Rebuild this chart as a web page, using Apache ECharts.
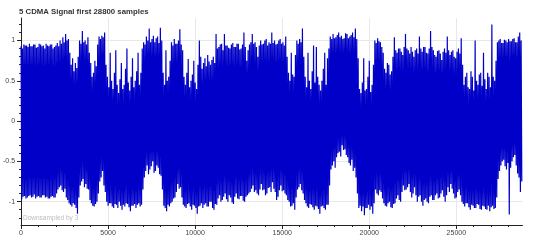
<!DOCTYPE html>
<html><head><meta charset="utf-8">
<script src="https://cdn.jsdelivr.net/npm/echarts@6/dist/echarts.min.js"></script>
<style>html,body{margin:0;padding:0;background:#fff}#c{width:540px;height:240px}</style>
</head><body><div id="c"></div>
<script>
const chartTitle = '5 CDMA Signal first 28800 samples';
const noteText = 'Downsampled by 3';
const sampleStep = 40; // samples between the values below
const signal = [
 0.93,-0.97, 0.90,-0.94, 0.95,-0.93, 0.94,-0.96, 0.94,-0.95, 0.92,-0.93, 0.96,-0.92, 0.93,-0.95, 0.93,-0.94, 0.95,-0.91, 0.95,-0.96, 0.91,-0.94, 0.92,-0.93, 0.96,-0.95, 0.95,-0.95, 0.93,-0.92, 0.94,-0.92, 0.90,-0.95, 0.96,-0.94, 0.94,-0.96,
 0.93,-0.96, 0.95,-0.94, 0.95,-0.93, 0.90,-0.95, 0.92,-0.95, 0.94,-0.90, 0.97,-0.85, 0.93,-0.82, 1.00,-0.80, 0.96,-0.86, 1.04,-0.88, 0.98,-0.84, 1.08,-0.95, 1.00,-0.98, 1.02,-1.02, 0.85,-1.04, 0.70,-1.06, 0.78,-1.02, 0.62,-1.04, 0.72,-1.08,
 0.66,-1.15, 0.80,-0.95, 1.00,-0.80, 0.96,-0.75, 1.12,-0.72, 0.98,-0.82, 1.00,-0.78, 0.95,-0.84, 1.04,-0.85, 0.85,-0.98, 0.72,-1.02, 0.55,-1.05, 0.60,-1.06, 0.75,-1.03, 0.68,-1.00, 0.95,-0.90, 1.05,-0.75, 1.02,-0.70, 1.06,-0.62, 1.04,-0.80,
 1.10,-0.88, 0.70,-1.00, 0.55,-1.05, 0.42,-1.02, 0.85,-1.02, 0.50,-1.06, 0.40,-1.08, 0.60,-1.03, 0.88,-1.04, 0.45,-1.08, 0.35,-1.00, 0.52,-1.05, 0.72,-1.10, 0.40,-1.04, 0.45,-1.06, 0.65,-1.02, 0.90,-1.03, 0.48,-1.07, 0.38,-1.12, 0.55,-1.05,
 0.78,-1.05, 0.42,-1.03, 0.50,-1.08, 0.62,-1.04, 0.85,-1.02, 0.45,-1.06, 0.60,-1.04, 0.90,-0.85, 0.98,-0.70, 0.95,-0.62, 1.05,-0.55, 1.00,-0.66, 1.15,-0.60, 0.98,-0.56, 1.02,-0.50, 1.06,-0.64, 0.98,-0.62, 1.03,-0.55, 1.05,-0.58, 0.97,-0.66,
 1.16,-0.68, 1.00,-0.85, 0.60,-1.05, 0.45,-1.08, 0.88,-1.12, 0.50,-1.04, 0.55,-1.06, 0.75,-1.02, 0.98,-1.00, 0.94,-0.96, 1.02,-0.95, 0.96,-0.88, 0.96,-0.78, 1.00,-0.84, 1.14,-0.82, 0.95,-0.95, 0.88,-1.04, 0.55,-1.06, 0.45,-1.08, 0.60,-1.03,
 0.77,-1.02, 0.42,-1.06, 0.50,-1.10, 0.58,-1.04, 0.75,-1.05, 0.48,-1.08, 0.40,-1.15, 0.70,-1.06, 1.00,-1.05, 0.80,-1.02, 0.65,-1.08, 0.72,-1.04, 0.78,-1.02, 0.68,-1.06, 0.82,-1.06, 0.74,-1.00, 0.70,-1.00, 0.76,-1.08, 0.80,-1.10, 0.72,-1.03,
 1.08,-1.04, 0.90,-0.96, 0.92,-0.92, 0.95,-1.00, 0.96,-0.98, 0.88,-0.94, 1.08,-0.90, 0.94,-0.97, 0.94,-1.00, 0.91,-0.92, 0.90,-0.95, 0.95,-1.01, 0.97,-1.03, 0.92,-0.94, 0.92,-0.90, 0.96,-0.96, 0.96,-0.97, 0.89,-0.93, 0.90,-0.93, 0.95,-0.99,
 1.10,-1.00, 0.92,-0.94, 0.75,-0.92, 0.88,-0.90, 0.95,-0.88, 0.98,-0.84, 1.08,-0.80, 0.96,-0.88, 0.98,-0.86, 0.92,-0.90, 0.80,-0.92, 0.94,-0.85, 1.00,-0.78, 0.95,-0.86, 0.96,-0.85, 1.00,-0.92, 1.02,-0.90, 0.94,-0.83, 0.98,-0.82, 0.96,-0.88,
 1.10,-0.76, 0.97,-0.84, 1.00,-0.88, 0.95,-0.98, 0.96,-0.94, 1.00,-0.86, 1.02,-0.80, 0.96,-0.87, 0.98,-0.86, 0.94,-0.90, 1.05,-0.92, 0.80,-0.98, 0.60,-1.00, 0.50,-1.06, 0.85,-1.05, 0.58,-1.02, 0.55,-1.10, 0.82,-0.95, 1.00,-0.85, 0.96,-0.82,
 1.02,-0.78, 0.98,-0.86, 1.15,-0.90, 0.80,-0.98, 0.55,-1.02, 0.42,-1.06, 0.85,-1.08, 0.50,-1.03, 0.40,-1.04, 0.62,-1.07, 0.94,-1.10, 0.48,-1.05, 0.92,-1.06, 0.55,-1.09, 0.45,-1.15, 0.38,-1.06, 0.50,-1.05, 0.65,-1.08, 0.85,-1.10, 0.45,-1.04,
 0.78,-1.04, 0.90,-0.80, 1.05,-0.60, 1.02,-0.55, 1.08,-0.50, 1.03,-0.58, 1.04,-0.45, 1.07,-0.40, 1.10,-0.38, 1.04,-0.44, 1.06,-0.30, 1.02,-0.36, 1.03,-0.35, 1.09,-0.42, 1.08,-0.45, 1.03,-0.52, 1.05,-0.55, 1.07,-0.48, 1.10,-0.62, 1.04,-0.58,
 1.15,-0.70, 1.02,-0.90, 0.78,-1.08, 0.40,-1.05, 0.35,-1.12, 0.48,-1.06, 0.78,-1.17, 0.38,-1.08, 0.40,-1.08, 0.55,-1.04, 0.75,-1.10, 0.36,-1.06, 0.45,-1.15, 0.70,-1.02, 1.00,-0.85, 0.97,-0.90, 1.03,-0.92, 0.99,-0.86, 0.98,-0.88, 0.92,-0.96,
 0.85,-1.02, 0.65,-1.05, 0.60,-1.06, 0.72,-1.02, 0.70,-1.00, 0.58,-1.07, 0.62,-1.08, 0.80,-1.03, 1.04,-1.02, 0.88,-0.96, 0.85,-0.92, 0.90,-0.98, 0.90,-1.00, 0.86,-0.88, 0.82,-0.80, 0.92,-0.86, 1.08,-0.85, 0.90,-0.82, 0.88,-0.78, 0.84,-0.88,
 0.92,-0.95, 0.86,-0.90, 0.80,-0.82, 0.88,-0.92, 0.90,-1.00, 0.84,-0.94, 1.05,-0.92, 0.90,-1.00, 0.86,-1.05, 0.92,-0.98, 0.92,-0.96, 0.85,-1.00, 0.84,-1.02, 0.90,-0.94, 1.12,-0.92, 0.92,-0.98, 0.88,-0.98, 0.82,-0.92, 0.80,-0.90, 0.87,-0.96,
 0.88,-0.95, 0.84,-0.90, 0.76,-0.86, 0.86,-0.94, 0.90,-1.00, 0.85,-0.92, 1.05,-0.82, 0.88,-0.88, 0.82,-0.78, 0.86,-0.84, 0.88,-0.90, 0.80,-0.96, 0.78,-0.95, 0.86,-0.88, 0.90,-0.85, 0.84,-0.92, 1.03,-1.00, 0.70,-1.03, 0.45,-1.06, 0.55,-1.02,
 0.60,-1.02, 0.42,-1.07, 0.40,-1.10, 0.62,-1.04, 0.55,-1.05, 0.38,-1.08, 1.00,-1.08, 0.50,-1.03, 0.45,-1.04, 0.58,-1.09, 0.60,-1.10, 0.44,-1.05, 0.85,-1.06, 0.52,-1.09, 0.40,-1.10, 0.60,-1.05, 0.55,-1.12, 0.42,-1.07, 1.20,-1.05, 0.55,-1.09,
 0.50,-1.08, 0.75,-0.95, 0.98,-0.72, 1.00,-0.62, 1.02,-0.55, 0.97,-0.50, 0.97,-0.48, 1.01,-0.56, 1.00,-0.60, 0.98,-0.52, 1.02,-1.16, 0.99,-0.58, 0.99,-0.50, 1.02,-0.45, 1.03,-0.42, 0.98,-0.55, 0.98,-0.65, 1.05,-0.70, 1.10,-0.88, 1.00,-0.75
];
const xMajorTicks = [0, 5000, 10000, 15000, 20000, 25000];
const xMinorTicks = [1000,2000,3000,4000,6000,7000,8000,9000,11000,12000,13000,14000,16000,17000,18000,19000,21000,22000,23000,24000,26000,27000,28000];
const yMajorTicks = [-1, -0.5, 0, 0.5, 1];
const yMinorTicks = [-1.2,-1.1,-0.9,-0.8,-0.7,-0.6,-0.4,-0.3,-0.2,-0.1,0.1,0.2,0.3,0.4,0.6,0.7,0.8,0.9,1.1,1.2];

const points = signal.map((v, i) => [i * sampleStep, v]);
const font = 'Liberation Sans, Arial, sans-serif';
const xMin = 0, xMax = 28800, yMin = -1.29, yMax = 1.28;

const chart = echarts.init(document.getElementById('c'), null, {renderer: 'canvas'});
chart.setOption({
  animation: false,
  backgroundColor: '#ffffff',
  title: {text: chartTitle, left: 14, top: 3,
    textStyle: {fontFamily: font, fontSize: 7.8, fontWeight: 'bold', color: '#333'}},
  graphic: [{type: 'text', left: 23, top: 215, z: 10,
    style: {text: noteText, fontFamily: font, fontSize: 6.5, fill: '#bdbdbd'}}],
  grid: {left: 18.5, right: 17.5, top: 18, bottom: 15, containLabel: false},
  xAxis: [{
    type: 'value', min: xMin, max: xMax, position: 'bottom',
    axisLine: {onZero: false, lineStyle: {color: '#222', width: 1}},
    axisTick: {show: true, length: 4, customValues: xMajorTicks, lineStyle: {color: '#222'}},
    axisLabel: {customValues: xMajorTicks, formatter: v => String(v), fontFamily: font, fontSize: 7, color: '#444', margin: 5},
    splitLine: {show: true, lineStyle: {color: '#e8e8e8', width: 1}}
  }, {
    type: 'value', min: xMin, max: xMax, position: 'bottom',
    axisLine: {show: false, onZero: false},
    axisTick: {show: true, length: 2, customValues: xMinorTicks, lineStyle: {color: '#222'}},
    axisLabel: {show: false}, splitLine: {show: false}
  }],
  yAxis: [{
    type: 'value', min: yMin, max: yMax, position: 'left',
    axisLine: {show: true, onZero: false, lineStyle: {color: '#222', width: 1}},
    axisTick: {show: true, length: 4, customValues: yMajorTicks, lineStyle: {color: '#222'}},
    axisLabel: {customValues: yMajorTicks, formatter: v => String(v), fontFamily: font, fontSize: 7, color: '#444', margin: 6},
    splitLine: {show: true, lineStyle: {color: '#e8e8e8', width: 1}}
  }, {
    type: 'value', min: yMin, max: yMax, position: 'left',
    axisLine: {show: false, onZero: false},
    axisTick: {show: true, length: 2, customValues: yMinorTicks, lineStyle: {color: '#222'}},
    axisLabel: {show: false}, splitLine: {show: false}
  }],
  series: [{
    type: 'line', data: points, xAxisIndex: 0, yAxisIndex: 0,
    showSymbol: false, symbol: 'none', sampling: null,
    lineStyle: {color: '#0000c8', width: 1.2}, clip: true, z: 3
  }]
});
</script></body></html>
